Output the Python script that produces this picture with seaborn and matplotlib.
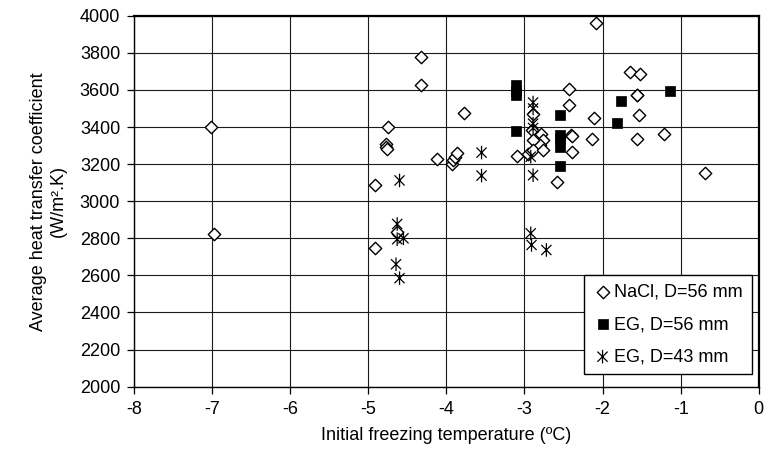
import numpy as np
import pandas as pd
import matplotlib
matplotlib.use("Agg")
import matplotlib.pyplot as plt
from matplotlib.path import Path
from matplotlib.markers import MarkerStyle
import seaborn as sns

# NaCl solution, pipe diameter 56 mm
nacl_t = [-7.02, -6.98, -4.33, -4.33, -4.75, -4.77, -4.77, -4.76, -4.12, -3.93,
          -3.91, -3.89, -3.86, -4.91, -4.63, -4.91, -3.78, -2.08, -2.43, -2.43,
          -2.11, -2.13, -2.40, -2.39, -2.39, -2.59, -3.10, -2.89, -2.91, -2.79,
          -2.76, -2.80, -2.89, -2.96, -2.89, -2.76, -1.65, -1.52, -1.565, -1.56,
          -1.54, -1.565, -1.21, -0.69]
nacl_h = [3400, 2822, 3775, 3625, 3400, 3310, 3290, 3280, 3225, 3200,
          3220, 3240, 3262, 3088, 2836, 2745, 3475, 3960, 3607, 3517,
          3446, 3336, 3355, 3350, 3267, 3105, 3246, 3472, 3382, 3364,
          3328, 3301, 3328, 3254, 3276, 3276, 3698, 3685, 3570, 3575,
          3463, 3336, 3361, 3150]

# Ethylene glycol, pipe diameter 56 mm
eg56_t = [-3.11, -3.11, -3.11, -3.11, -2.54, -2.54, -2.54, -2.54, -2.54,
          -1.81, -1.77, -1.14]
eg56_h = [3625, 3595, 3570, 3380, 3465, 3355, 3335, 3290, 3192,
          3422, 3540, 3595]

# Ethylene glycol, pipe diameter 43 mm
eg43_t = [-4.60, -4.63, -4.63, -4.55, -4.645, -4.60, -3.55, -3.55, -2.89,
          -2.89, -2.89, -2.89, -2.92, -2.89, -2.92, -2.91, -2.72]
eg43_h = [3112, 2877, 2795, 2800, 2660, 2585, 3262, 3138, 3532,
          3500, 3418, 3395, 3240, 3140, 2827, 2764, 2737]

labels = ["NaCl, D=56 mm", "EG, D=56 mm", "EG, D=43 mm"]
x_ticks = list(range(-8, 1))
y_ticks = list(range(2000, 4001, 200))

sns.set_theme(style="white")
plt.rcParams["font.family"] = ["Liberation Sans", "DejaVu Sans"]
plt.rcParams["font.size"] = 13
for key in ["text.color", "axes.labelcolor", "xtick.color", "ytick.color"]:
    plt.rcParams[key] = "black"

# asterisk marker: an X crossed by a vertical stroke
star_path = Path(
    [(-0.75, -0.75), (0.75, 0.75), (-0.75, 0.75), (0.75, -0.75), (0, -1), (0, 1)],
    [Path.MOVETO, Path.LINETO, Path.MOVETO, Path.LINETO, Path.MOVETO, Path.LINETO],
)
star_marker = MarkerStyle(star_path)

fig = plt.figure(figsize=(7.68, 4.58), dpi=100)
ax = fig.add_axes([0.1745, 0.1557, 0.8135, 0.81])

df_nacl = pd.DataFrame({"t": nacl_t, "h": nacl_h})
df_eg56 = pd.DataFrame({"t": eg56_t, "h": eg56_h})
df_eg43 = pd.DataFrame({"t": eg43_t, "h": eg43_h})

sns.scatterplot(data=df_nacl, x="t", y="h", ax=ax, marker="D", s=40,
                facecolor="white", edgecolor="black", linewidth=1.0,
                label=labels[0], zorder=3)
sns.scatterplot(data=df_eg56, x="t", y="h", ax=ax, marker="s", s=44,
                color="black", edgecolor="black", linewidth=0.5,
                label=labels[1], zorder=4)
sns.scatterplot(data=df_eg43, x="t", y="h", ax=ax, marker=star_marker, s=95,
                facecolor="none", edgecolor="black", linewidth=0.9,
                label=labels[2], zorder=5)

ax.set_xlim(-8, 0)
ax.set_ylim(2000, 4000)
ax.set_xticks(x_ticks)
ax.set_yticks(y_ticks)
ax.set_xticklabels([str(v) for v in x_ticks])
ax.grid(True, color="#1a1a1a", linewidth=0.8)
ax.set_axisbelow(True)
for side in ["left", "bottom"]:
    ax.spines[side].set_linewidth(1.0)
for side in ["top", "right"]:
    ax.spines[side].set_linewidth(1.6)
for sp in ax.spines.values():
    sp.set_color("black")
ax.tick_params(axis="both", direction="out", length=5, width=0.9,
               color="black", labelcolor="black", labelsize=13, pad=5,
               left=True, bottom=True)

ax.set_xlabel("Initial freezing temperature (ºC)", fontsize=13, labelpad=7)
ax.set_ylabel("Average heat transfer coefficient\n(W/m².K)", fontsize=13,
              labelpad=9, linespacing=1.25)

leg = ax.legend(loc="lower right", bbox_to_anchor=(0.989, 0.033),
                frameon=True, fancybox=False, edgecolor="black",
                framealpha=1, fontsize=13, handletextpad=0.15,
                borderpad=0.5, labelspacing=0.85, handlelength=1.0,
                borderaxespad=0)
leg.get_frame().set_linewidth(1.0)

fig.savefig("out.png", dpi=100)
